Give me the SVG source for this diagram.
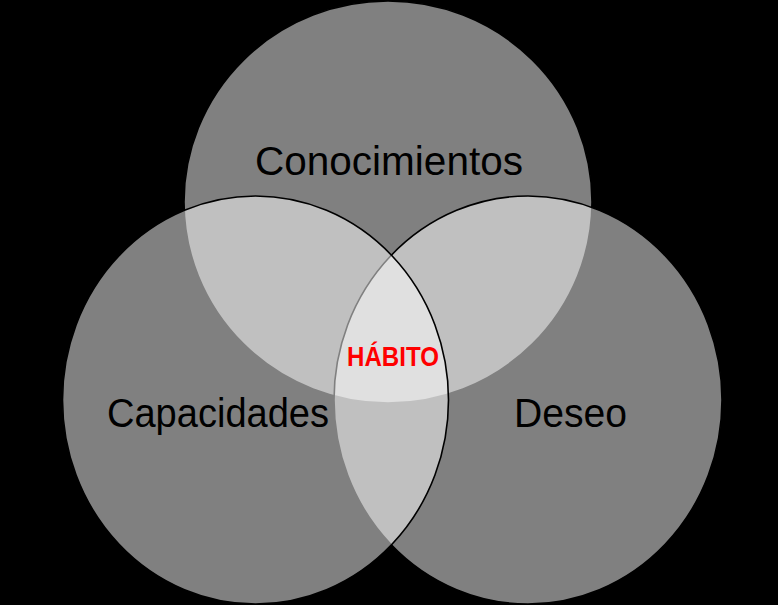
<svg xmlns="http://www.w3.org/2000/svg" width="778" height="605" viewBox="0 0 778 605">
  <style>
    .set { fill: #ffffff; fill-opacity: 0.5; stroke: #000000; stroke-width: 1.6; }
    .lbl { font-family: "Liberation Sans", Arial, sans-serif; font-size: 40px; fill: #000000; text-anchor: start; }
    .core { font-family: "Liberation Sans", Arial, sans-serif; font-size: 28.5px; font-weight: bold; fill: #ff0000; }
  </style>
  <rect x="0" y="0" width="778" height="605" fill="#000000"/>
  <g id="conocimientos">
    <ellipse class="set" cx="388" cy="202" rx="204" ry="201"/>
    <text class="lbl" x="255" y="175" textLength="268" lengthAdjust="spacingAndGlyphs">Conocimientos</text>
  </g>
  <g id="deseo">
    <ellipse class="set" cx="528" cy="400" rx="194" ry="204"/>
    <text class="lbl" x="514" y="427" textLength="113" lengthAdjust="spacingAndGlyphs">Deseo</text>
  </g>
  <g id="capacidades">
    <ellipse class="set" cx="255.5" cy="400" rx="193" ry="204"/>
    <text class="lbl" x="107" y="427" textLength="222" lengthAdjust="spacingAndGlyphs">Capacidades</text>
  </g>
  <g id="habito">
    <text class="core" x="347" y="366" textLength="92" lengthAdjust="spacingAndGlyphs">HÁBITO</text>
  </g>
</svg>
